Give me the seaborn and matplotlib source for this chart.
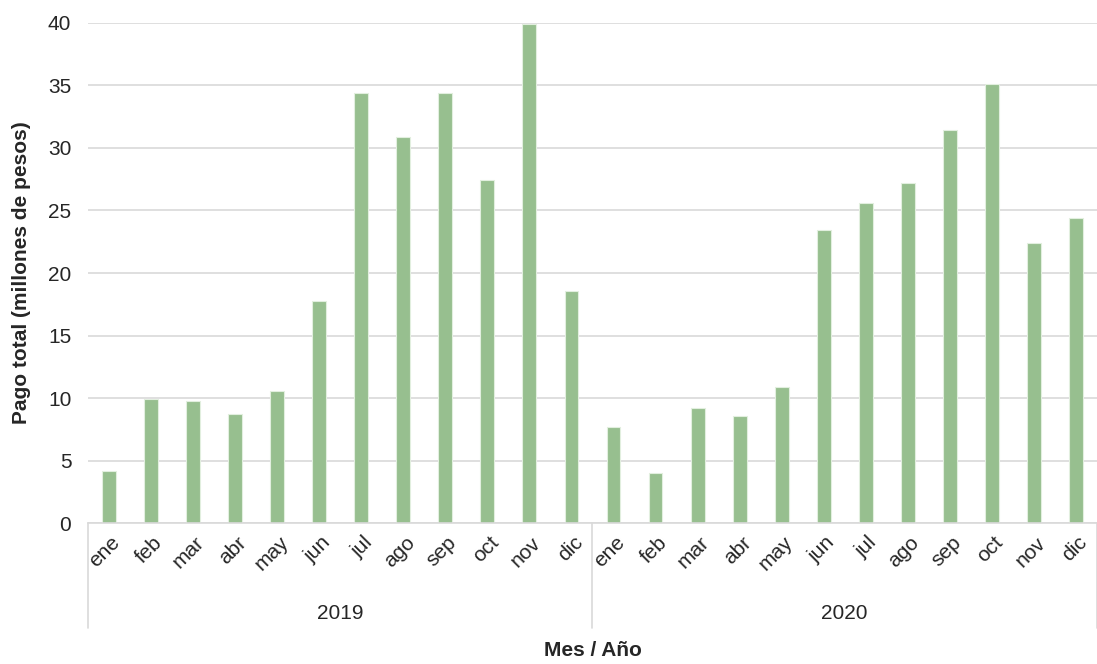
import seaborn as sns
import matplotlib.pyplot as plt
import matplotlib.transforms as mtransforms
import pandas as pd

# data
months = ["ene", "feb", "mar", "abr", "may", "jun",
          "jul", "ago", "sep", "oct", "nov", "dic"]
years = ["2019", "2020"]
pago_2019 = [4.2, 9.9, 9.8, 8.7, 10.6, 17.8, 34.4, 30.9, 34.4, 27.4, 39.9, 18.6]
pago_2020 = [7.7, 4.0, 9.2, 8.6, 10.9, 23.4, 25.6, 27.2, 31.4, 35.1, 22.4, 24.4]

df = pd.DataFrame({
    "key": [f"{y}-{m}" for y in years for m in months],
    "mes": months * 2,
    "anio": [y for y in years for _ in months],
    "pago": pago_2019 + pago_2020,
})

sns.set_theme(style="white")
plt.rcParams["font.family"] = ["Liberation Sans Narrow", "Liberation Sans", "DejaVu Sans"]

fig = plt.figure(figsize=(10.97, 6.64), dpi=100)
ax = fig.add_axes([0.0802, 0.2123, 0.9198, 0.7531])

sns.barplot(data=df, x="key", y="pago", color="#97bf8f", saturation=1,
            width=0.33, edgecolor="#e2efdf", linewidth=0.8, ax=ax)

ax.set_ylim(0, 40)
ax.set_yticks(range(0, 41, 5))
ax.yaxis.grid(True, color="#d9d9d9", linewidth=1.2)
ax.set_axisbelow(True)
for s in ["top", "right", "left"]:
    ax.spines[s].set_visible(False)
ax.spines["bottom"].set_color("#d9d9d9")
ax.spines["bottom"].set_linewidth(1.2)
ax.tick_params(axis="both", length=0, labelsize=15, colors="#262626")
ax.tick_params(axis="y", pad=12)

ax.set_xticks(range(len(df)))
ax.set_xticklabels(df["mes"], rotation=45, ha="right", va="center",
                   rotation_mode="anchor", fontsize=15)
ax.tick_params(axis="x", pad=12)
shift = mtransforms.ScaledTranslation(6 / 72, 0, fig.dpi_scale_trans)
for lbl in ax.get_xticklabels():
    lbl.set_transform(lbl.get_transform() + shift)

# year group labels and separators
trans = mtransforms.blended_transform_factory(ax.transData, ax.transAxes)
n = len(months)
for i, y in enumerate(years):
    ax.text(i * n + (n - 1) / 2, -0.18, y, transform=trans,
            ha="center", va="center", fontsize=15, color="#262626")
for xs in [-0.5, n - 0.5, 2 * n - 0.5]:
    ax.plot([xs, xs], [0, -0.21], transform=trans, color="#d9d9d9",
            linewidth=1.2, clip_on=False)

ax.set_xlabel("Mes / Año", fontsize=15, fontweight="bold")
ax.set_ylabel("Pago total (millones de pesos)", fontsize=15, fontweight="bold", labelpad=12)
ax.set_xlim(-0.5, 2 * n - 0.5)
ax.xaxis.set_label_coords(0.5, -0.235)

fig.savefig("out.png", dpi=100)
